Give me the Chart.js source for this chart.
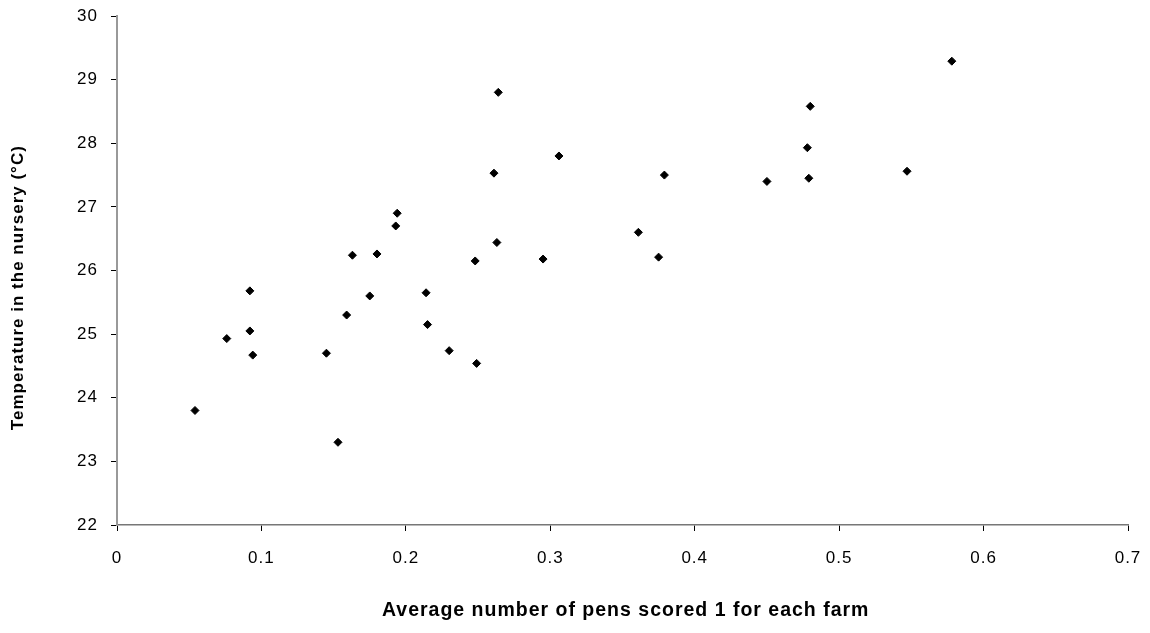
<!DOCTYPE html>
<html><head><meta charset="utf-8">
<script src="https://cdn.jsdelivr.net/npm/chart.js@4.4.1/dist/chart.umd.min.js"></script>
<style>html,body{margin:0;padding:0;background:#fff}#wrap{width:1150px;height:633px;position:relative}</style>
</head><body><div id="wrap"><canvas id="c"></canvas></div>
<script>
const xValues = [0.054,0.076,0.092,0.092,0.094,0.145,0.153,0.159,0.163,0.175,0.180,0.193,0.194,0.214,0.215,0.230,0.249,0.248,0.261,0.263,0.264,0.295,0.306,0.361,0.375,0.379,0.450,0.478,0.479,0.480,0.547,0.578];
const yValues = [23.80,24.93,25.68,25.05,24.67,24.70,23.30,25.30,26.24,25.60,26.26,26.70,26.90,25.65,25.15,24.74,24.54,26.15,27.53,26.44,28.80,26.18,27.80,26.60,26.21,27.50,27.40,27.93,27.45,28.58,27.56,29.29];
const xTickLabels = ['0','0.1','0.2','0.3','0.4','0.5','0.6','0.7'];
const yTickLabels = ['22','23','24','25','26','27','28','29','30'];
const xTitle = 'Average number of pens scored 1 for each farm';
const yTitle = 'Temperature in the nursery (°C)';

const points = xValues.map((x, i) => ({x: x, y: yValues[i]}));

const spacingPlugin = {
  id: 'spacing',
  beforeDraw(chart) { chart.ctx.letterSpacing = '1px'; }
};

new Chart(document.getElementById('c'), {
  type: 'scatter',
  data: { datasets: [{
    data: points,
    pointStyle: 'rectRot',
    pointRadius: 4,
    pointHoverRadius: 4,
    backgroundColor: '#000',
    borderColor: '#000',
    borderWidth: 1
  }]},
  options: {
    responsive: true,
    maintainAspectRatio: false,
    animation: false,
    events: [],
    layout: { autoPadding: false, padding: { top: 16, right: 22, bottom: 0, left: 0 } },
    plugins: { legend: { display: false }, tooltip: { enabled: false } },
    scales: {
      x: {
        type: 'linear', min: 0, max: 0.7,
        afterBuildTicks(s) { s.ticks = xTickLabels.map(v => ({value: parseFloat(v)})); },
        afterFit(s) { s.height = 108; s.paddingLeft = 0; s.paddingRight = 0; },
        ticks: { padding: 17, color: '#000', font: { family: 'Liberation Sans', size: 17 },
          callback: (v, i) => xTickLabels[i] },
        grid: { drawOnChartArea: false, tickLength: 6, tickColor: '#000', tickWidth: 1 },
        border: { color: '#777', width: 1.5 },
        title: { display: true, text: '\u00a0' + xTitle, color: '#000',
          font: { family: 'Liberation Sans', size: 19.5, weight: 'bold' },
          padding: { top: 0, bottom: 11 } }
      },
      y: {
        type: 'linear', min: 22, max: 30,
        afterBuildTicks(s) { s.ticks = yTickLabels.map(v => ({value: parseFloat(v)})); },
        afterFit(s) { s.width = 117; s.paddingTop = 0; s.paddingBottom = 0; },
        ticks: { padding: 13, color: '#000', font: { family: 'Liberation Sans', size: 17 },
          callback: (v, i) => yTickLabels[i] },
        grid: { drawOnChartArea: false, tickLength: 6, tickColor: '#000', tickWidth: 1 },
        border: { color: '#999', width: 2 },
        title: { display: true, text: yTitle + '\u00a0\u00a0\u00a0\u00a0\u00a0\u00a0', color: '#000',
          font: { family: 'Liberation Sans', size: 17, weight: 'bold' },
          padding: { top: 8.4, bottom: 0 } }
      }
    }
  },
  plugins: [spacingPlugin]
});
</script>
</body></html>
